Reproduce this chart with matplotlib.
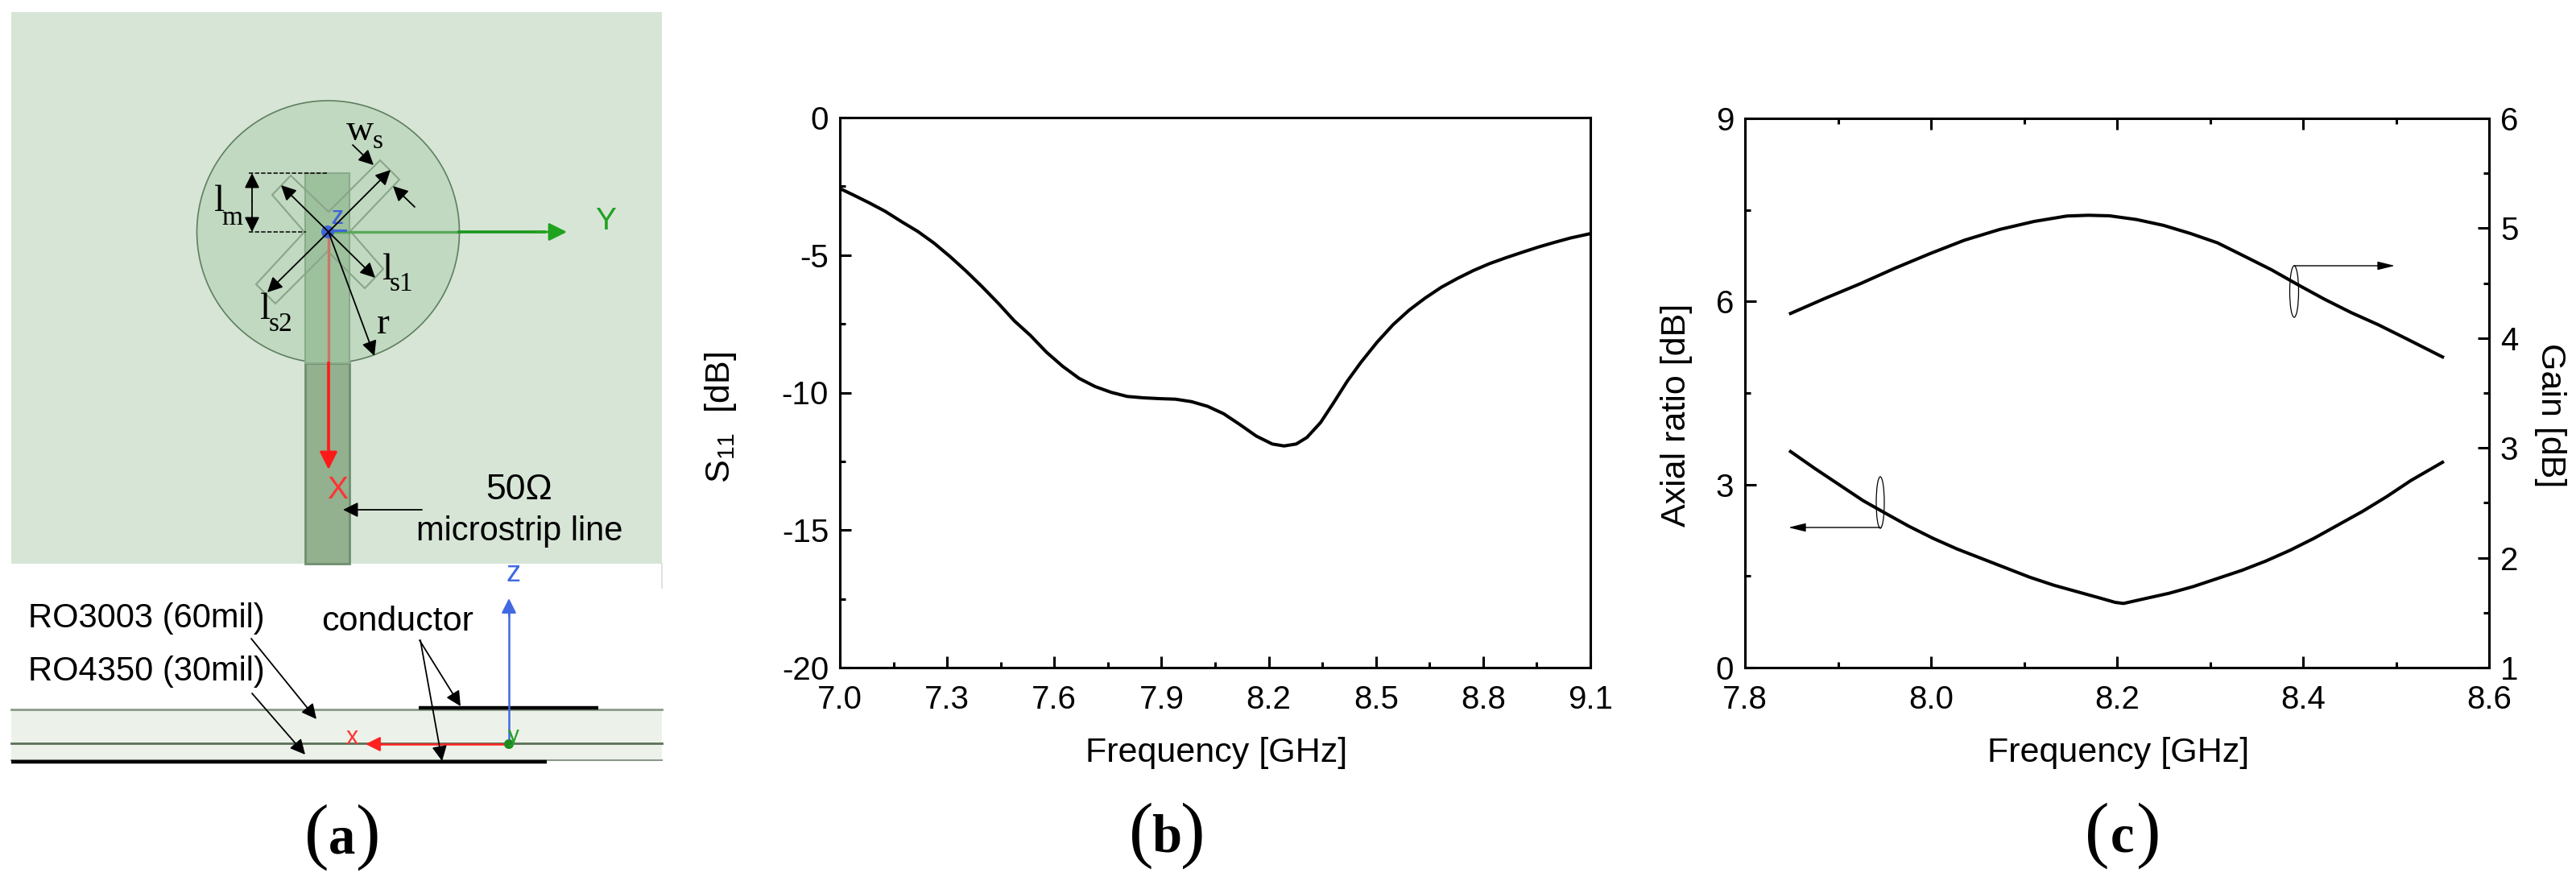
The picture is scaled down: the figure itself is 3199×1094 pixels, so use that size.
"""
Antenna layout, S11 and axial ratio / gain panels.
"""
import matplotlib
matplotlib.use('Agg')
import matplotlib.pyplot as plt
from matplotlib.patches import Circle, Ellipse, Polygon, Rectangle

plt.rcParams['font.family'] = ['Liberation Sans', 'DejaVu Sans']
plt.rcParams['mathtext.fontset'] = 'custom'
plt.rcParams['mathtext.rm'] = 'Liberation Sans'
plt.rcParams['axes.unicode_minus'] = False

W, H = 3199, 1094

# panel (b)
s11_freq = [7.0, 7.037, 7.082, 7.127, 7.172, 7.218, 7.263, 7.308, 7.353, 7.398, 7.443, 7.488,
            7.533, 7.578, 7.623, 7.669, 7.714, 7.759, 7.804, 7.849, 7.894, 7.939, 7.984, 8.029,
            8.074, 8.119, 8.165, 8.210, 8.243, 8.277, 8.307, 8.345, 8.382, 8.420, 8.458, 8.503,
            8.548, 8.593, 8.638, 8.683, 8.728, 8.773, 8.818, 8.863, 8.909, 8.954, 8.999, 9.044, 9.1]
s11_db = [-2.58, -2.81, -3.10, -3.41, -3.78, -4.14, -4.56, -5.05, -5.58, -6.15, -6.75, -7.39,
          -7.92, -8.53, -9.04, -9.48, -9.78, -9.99, -10.14, -10.19, -10.22, -10.24, -10.33, -10.50,
          -10.77, -11.16, -11.58, -11.87, -11.94, -11.87, -11.63, -11.09, -10.36, -9.58, -8.90, -8.17,
          -7.53, -7.0, -6.56, -6.17, -5.85, -5.56, -5.31, -5.10, -4.90, -4.71, -4.54, -4.38, -4.22]
s11_xticks = [7.0, 7.3, 7.6, 7.9, 8.2, 8.5, 8.8, 9.1]
s11_xminor = [7.15, 7.45, 7.75, 8.05, 8.35, 8.65, 8.95]
s11_yticks = [0, -5, -10, -15, -20]
s11_yminor = [-2.5, -7.5, -12.5, -17.5]

# panel (c)
gain_freq = [7.849, 7.886, 7.924, 7.961, 7.999, 8.036, 8.074, 8.111, 8.146, 8.169, 8.192, 8.221,
             8.250, 8.279, 8.308, 8.337, 8.366, 8.394, 8.423, 8.452, 8.481, 8.510, 8.550]
gain_db = [4.224, 4.361, 4.495, 4.635, 4.769, 4.891, 4.989, 5.062, 5.111, 5.118, 5.113, 5.079,
           5.026, 4.952, 4.867, 4.745, 4.622, 4.488, 4.354, 4.231, 4.121, 3.999, 3.828]
ar_freq = [7.849, 7.875, 7.901, 7.927, 7.950, 7.976, 8.002, 8.028, 8.054, 8.080, 8.106, 8.132,
           8.158, 8.184, 8.198, 8.207, 8.230, 8.256, 8.282, 8.308, 8.334, 8.360, 8.386, 8.412,
           8.438, 8.464, 8.490, 8.516, 8.550]
ar_db = [3.541, 3.264, 3.0, 2.736, 2.538, 2.318, 2.120, 1.944, 1.790, 1.636, 1.482, 1.350,
         1.240, 1.130, 1.069, 1.051, 1.130, 1.218, 1.328, 1.460, 1.592, 1.746, 1.922, 2.120,
         2.340, 2.560, 2.802, 3.066, 3.365]
c_xticks = [7.8, 8.0, 8.2, 8.4, 8.6]
c_xminor = [7.9, 8.1, 8.3, 8.5]
ar_yticks = [0, 3, 6, 9]
ar_yminor = [1.5, 4.5, 7.5]
gain_yticks = [1, 2, 3, 4, 5, 6]
gain_yminor = [1.5, 2.5, 3.5, 4.5, 5.5]

# panel (a) layout, in image pixels
slot_cross = [(361, 218), (408, 263), (472, 199), (496, 223), (435, 287), (476, 334), (453, 358),
              (407, 312), (342, 377), (318, 353), (378, 288), (338, 242)]
black_arrows = [((408, 288), (485, 211)), ((408, 288), (349, 230)), ((408, 288), (466, 345)),
                ((408, 288), (332, 363)), ((408, 288), (465, 442)), ((438, 180), (464, 205)),
                ((515, 257), (488, 231)), ((524, 633), (426, 633)),
                ((312, 793), (393, 893)), ((313, 861), (379, 937)),
                ((521, 795), (572, 877)), ((522, 795), (549, 945))]


def px(x0, x1, y0, y1):
    # axes rectangle from image pixels
    return [x0 / W, 1 - y1 / H, (x1 - x0) / W, (y1 - y0) / H]


def style_axis(ax, xticks, xminor, yticks, yminor):
    ax.set_xticks(xticks)
    ax.set_xticks(xminor, minor=True)
    ax.set_yticks(yticks)
    ax.set_yticks(yminor, minor=True)
    ax.tick_params(which='major', direction='in', length=10, width=2.2, labelsize=29)
    ax.tick_params(which='minor', direction='in', length=5, width=2.2)
    ax.tick_params(axis='x', which='major', pad=15)
    ax.tick_params(axis='y', which='major', pad=10)
    for s in ax.spines.values():
        s.set_linewidth(2.2)


def arrow(ax, a, b, color='black', lw=1.5, ms=30, style='-|>', z=6):
    ax.annotate('', xy=b, xytext=a, zorder=z,
                arrowprops=dict(arrowstyle=style, color=color, lw=lw, mutation_scale=ms,
                                shrinkA=0, shrinkB=0))


def caption(ax, x, letter, y=1038):
    ax.text(x - 32, y, '(', fontsize=66, family='Liberation Serif', ha='center', va='center')
    ax.text(x, y + 3, letter, fontsize=48, family='Liberation Serif', weight='bold', ha='center', va='center')
    ax.text(x + 32, y, ')', fontsize=66, family='Liberation Serif', ha='center', va='center')


def serif(ax, x, y, s, size):
    ax.text(x, y, s, fontsize=size, family='Liberation Serif', ha='center', va='center', zorder=8)


fig = plt.figure(figsize=(W / 100, H / 100), dpi=100, facecolor='white')

# (b)
ax_b = fig.add_axes(px(1043, 1975, 146, 829))
ax_b.plot(s11_freq, s11_db, color='black', lw=2.9)
ax_b.set_xlim(7.0, 9.1)
ax_b.set_ylim(-20, 0)
style_axis(ax_b, s11_xticks, s11_xminor, s11_yticks, s11_yminor)
ax_b.set_xticklabels([f'{v:.1f}' for v in s11_xticks])
ax_b.set_xlabel('Frequency [GHz]', fontsize=31, va='center')
ax_b.xaxis.set_label_coords(0.502, -0.155)
ax_b.set_ylabel(r'$\mathrm{S_{11}}$  [dB]', fontsize=31, va='center')
ax_b.yaxis.set_label_coords(-0.159, 0.455)

# (c)
ax_c = fig.add_axes(px(2167, 3091, 147, 829))
ax_c.plot(ar_freq, ar_db, color='black', lw=2.9)
ax_c.set_xlim(7.8, 8.6)
ax_c.set_ylim(0, 9)
style_axis(ax_c, c_xticks, c_xminor, ar_yticks, ar_yminor)
ax_c.tick_params(which='both', top=True)
ax_c.set_xticklabels([f'{v:.1f}' for v in c_xticks])
ax_c.set_xlabel('Frequency [GHz]', fontsize=31, va='center')
ax_c.xaxis.set_label_coords(0.502, -0.155)
ax_c.set_ylabel('Axial ratio [dB]', fontsize=31, va='center')
ax_c.yaxis.set_label_coords(-0.092, 0.46)

ax_g = ax_c.twinx()
ax_g.plot(gain_freq, gain_db, color='black', lw=2.9)
ax_g.set_ylim(1, 6)
ax_g.set_yticks(gain_yticks)
ax_g.set_yticks(gain_yminor, minor=True)
ax_g.tick_params(which='major', direction='in', length=10, width=2.2, labelsize=29, pad=10)
ax_g.tick_params(which='minor', direction='in', length=5, width=2.2)
ax_g.set_ylabel('Gain [dB]', fontsize=31, rotation=270, va='center')
ax_g.yaxis.set_label_coords(1.082, 0.46)

# overlay in image pixels, for panel (a), captions and the callouts of (c)
ov = fig.add_axes([0, 0, 1, 1], zorder=10)
ov.set_xlim(0, W)
ov.set_ylim(H, 0)
ov.axis('off')

ov.add_patch(Rectangle((14, 15), 808, 685, fc='#d7e5d7', ec='none', zorder=1))
ov.add_patch(Rectangle((379, 451), 55, 249, fc='#93b08f', ec='#6f8f6f', lw=2, zorder=2))
ov.add_patch(Circle((407.5, 288), 163, fc='#c0d9c0', ec='#5f7f5f', lw=1.2, zorder=3))
ov.add_patch(Rectangle((379, 215), 55, 236, fc='#9dc09d', ec='#8aaa8a', lw=1.5, zorder=4))
ov.add_patch(Polygon(slot_cross, closed=True, fc='none', ec='#8aa58a', lw=1.5, zorder=4))

# axes of the layout view
ov.plot([408, 570], [288, 288], color='#5aa85a', lw=2.4, zorder=5)
ov.plot([570, 676], [288, 288], color='#1a961a', lw=2.6, zorder=5)
arrow(ov, (665, 288), (704, 288), color='#1fa31f', ms=34, lw=2)
ov.plot([408, 408], [288, 451], color='#cc7766', lw=2.4, zorder=5)
ov.plot([408, 408], [451, 560], color='#ff1a1a', lw=2.6, zorder=5)
arrow(ov, (408, 550), (408, 583), color='#ff1a1a', ms=34, lw=2)
ov.add_patch(Circle((407, 288), 8, fc='#3f64d8', ec='none', zorder=5))
ov.plot([408, 429], [286, 286], color='#3f64d8', lw=2.2, zorder=5)
ov.text(418, 272, 'Z', fontsize=17, color='#3f64d8', weight='bold', ha='center', va='center', zorder=5)
ov.text(752, 275, 'Y', fontsize=28, color='#22a022', ha='center', va='center', zorder=5)
ov.text(419, 609, 'X', fontsize=28, color='#ff3333', ha='center', va='center', zorder=5)

for a, b in black_arrows:
    arrow(ov, a, b, ms=28, lw=1.3)
arrow(ov, (313, 250), (313, 215), ms=28, lw=1.3)
arrow(ov, (313, 250), (313, 288), ms=28, lw=1.3)
ov.plot([309, 407], [215, 215], color='black', lw=1.1, ls=(0, (3.5, 1.5)), zorder=6)
ov.plot([309, 380], [288, 288], color='black', lw=1.1, ls=(0, (3.5, 1.5)), zorder=6)

serif(ov, 273, 251, 'l', 34)
serif(ov, 288, 271, 'm', 24)
serif(ov, 447, 163, 'w', 34)
serif(ov, 469, 176, 's', 24)
serif(ov, 482, 336, 'l', 34)
serif(ov, 498, 353, 's1', 24)
serif(ov, 330, 385, 'l', 34)
serif(ov, 349, 403, 's2', 24)
serif(ov, 476, 403, 'r', 34)

ov.text(645, 609, '50Ω', fontsize=32, ha='center', va='center', zorder=8)
ov.text(645, 660, 'microstrip line', fontsize=30, ha='center', va='center', zorder=8)

# side view
ov.plot([822, 822], [700, 730], color='#d5dfd5', lw=1.2, zorder=1)
ov.add_patch(Rectangle((14, 881), 808, 63, fc='#ecf2ea', ec='none', zorder=1))
ov.plot([14, 822], [881, 881], color='#8a9a88', lw=2, zorder=2)
ov.plot([14, 822], [923, 923], color='#5a7058', lw=2, zorder=2)
ov.plot([14, 822], [944, 944], color='#8a9a88', lw=1.5, zorder=2)
ov.plot([520, 743], [879, 879], color='black', lw=3.2, solid_capstyle='butt', zorder=3)
ov.plot([14, 679], [946, 946], color='black', lw=3.2, solid_capstyle='butt', zorder=3)
ov.plot([632, 632], [924, 758], color='#4169e1', lw=1.8, zorder=4)
arrow(ov, (632, 765), (632, 743), color='#4169e1', ms=28, lw=1.5)
ov.plot([632, 470], [924, 924], color='#ff2020', lw=1.8, zorder=4)
arrow(ov, (475, 924), (454, 924), color='#ff2020', ms=28, lw=1.5)
ov.add_patch(Circle((632, 924), 6, fc='#1f8a1f', ec='none', zorder=5))
ov.text(638, 712, 'z', fontsize=26, color='#4169e1', ha='center', va='center')
ov.text(437, 916, 'x', fontsize=22, color='#ff3333', ha='center', va='center')
ov.text(638, 914, 'y', fontsize=20, color='#22a022', ha='center', va='center', zorder=5)
ov.text(35, 768, 'RO3003 (60mil)', fontsize=30, ha='left', va='center')
ov.text(35, 834, 'RO4350 (30mil)', fontsize=30, ha='left', va='center')
ov.text(399, 772, 'conductor', fontsize=31, ha='left', va='center')

# callouts of (c)
thin_head = '-|>,head_length=0.65,head_width=0.16'
ov.add_patch(Ellipse((2849, 362), 11, 64, fc='none', ec='black', lw=0.9))
arrow(ov, (2849, 330), (2974, 330), ms=20, lw=1, style=thin_head)
ov.add_patch(Ellipse((2335, 624), 10, 64, fc='none', ec='black', lw=0.9))
arrow(ov, (2335, 655), (2221, 655), ms=20, lw=1, style=thin_head)

caption(ov, 425, 'a', 1040)
caption(ov, 1449, 'b')
caption(ov, 2636, 'c')

fig.savefig('out.png', dpi=100)
